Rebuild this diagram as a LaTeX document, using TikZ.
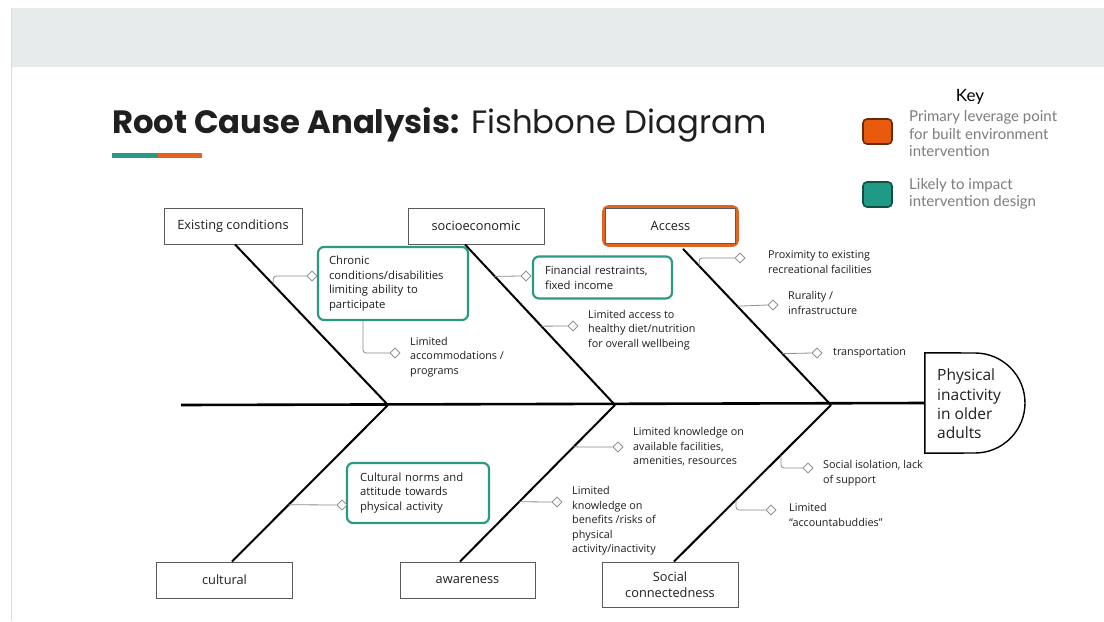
\documentclass[tikz,border=0pt]{standalone}
\usepackage{fontspec}
\setmainfont{Open Sans}
\newfontfamily\titlefont{Poppins}
\newfontfamily\keyfont{Lato}
\usetikzlibrary{shapes.geometric,calc}
\definecolor{band}{HTML}{E8EBEB}
\definecolor{edgeline}{HTML}{DADDDD}
\definecolor{tealc}{HTML}{2A9A85}
\definecolor{orangec}{HTML}{E2641F}
\definecolor{keyorange}{HTML}{E85A0C}
\definecolor{keyorangeedge}{HTML}{6B2A0A}
\definecolor{keyteal}{HTML}{1F9A86}
\definecolor{keytealedge}{HTML}{0F4F44}
\definecolor{keytext}{HTML}{7D7D7D}
\definecolor{boxline}{HTML}{5A5A5A}
\definecolor{twig}{HTML}{8C8C8C}
\definecolor{ink}{HTML}{1E1E1E}

\begin{document}
\begin{tikzpicture}[x=1pt,y=-1pt,
  catbox/.style={draw=boxline,line width=0.9pt,fill=white,inner sep=0pt,
    font=\fontsize{12.8}{16.5}\selectfont,text=ink,align=center},
  focusbox/.style={draw=tealc,line width=2.2pt,rounded corners=6pt,fill=white,
    align=left,inner ysep=0pt,font=\fontsize{11.3}{14.8}\selectfont,text=ink},
  bone/.style={draw=black,line width=2pt},
  spine/.style={draw=black,line width=2.6pt},
  twig/.style={draw=twig,line width=0.8pt,rounded corners=3pt},
  tip/.style={diamond,draw=twig,fill=white,line width=0.8pt,minimum width=10pt,
    minimum height=10pt,inner sep=0pt},
  cause/.style={anchor=west,align=left,inner sep=0pt,
    font=\fontsize{10.8}{14.5}\selectfont,text=ink},
  keytxt/.style={anchor=west,align=left,inner sep=0pt,
    font=\keyfont\fontsize{15}{17.5}\selectfont,text=keytext},
  keysq/.style={rounded corners=4pt,line width=1.6pt}
]
% page and header band
\fill[white] (0,0) rectangle (1104,621);
\fill[band] (11,8) rectangle (1104,67);
\draw[edgeline,line width=1pt] (11.5,8) -- (11.5,621);

% title with its two-colour rule
\node[anchor=base west,inner sep=0pt,font=\titlefont\fontsize{32.3}{37}\selectfont,text=black!88]
  (title) at (112,133) {\textbf{Root Cause Analysis:} Fishbone Diagram};
\fill[tealc] (112,153) rectangle (158,158);
\fill[orangec] (158,153) rectangle (202,158);

% key
\node[inner sep=0pt,font=\keyfont\fontsize{17}{20}\selectfont,text=black] (keyhead) at (970,97) {Key};
\filldraw[keysq,fill=keyorange,draw=keyorangeedge] (863,119) rectangle (892,144);
\filldraw[keysq,fill=keyteal,draw=keytealedge] (863,182) rectangle (892,207);
\node[keytxt] (keyprimary) at (909,134) {Primary leverage point\\for built environment\\intervention};
\node[keytxt] (keylikely) at (909,194) {Likely to impact\\intervention design};

% category boxes
\node[catbox,minimum width=138pt,minimum height=36pt] (ec) at (233,226) {Existing conditions};
\node[catbox,minimum width=136pt,minimum height=36pt] (soc) at (476,226) {socioeconomic};
\node[draw=orangec,line width=2.8pt,rounded corners=5pt,fill=white,inner sep=0pt,
  minimum width=134pt,minimum height=39pt,font=\fontsize{12.8}{16.5}\selectfont,text=ink]
  (acc) at (670.5,226) {Access};
\draw[boxline,line width=0.6pt] ($(acc.north west)+(3.5,3.5)$) rectangle ($(acc.south east)+(-3.5,-3.5)$);
\node[catbox,minimum width=136pt,minimum height=36pt] (cul) at (224.5,580) {cultural};
\node[catbox,minimum width=135pt,minimum height=36pt] (awa) at (467.5,580) {awareness};
\node[catbox,minimum width=136pt,minimum height=45pt] (scn) at (670,584.5) {Social\\connectedness};

% effect head
\node[minimum width=100pt,minimum height=100pt,inner sep=0pt] (head) at (975,403) {};
\draw[black,line width=1.4pt] (head.north west) -- (975,353)
  .. controls (1002.6,353) and (1025,375.4) .. (1025,403)
  .. controls (1025,430.6) and (1002.6,453) .. (975,453) -- (head.south west) -- cycle;
\node[anchor=west,align=left,inner sep=0pt,font=\fontsize{15.5}{19.3}\selectfont,text=ink]
  (headtxt) at (937,404) {Physical\\inactivity\\in older\\adults};

% spine and bones
\coordinate (tail) at (181,405);
\coordinate (j1) at (388,405);
\coordinate (j2) at (615,405);
\coordinate (j3) at (831,405);
\draw[spine] (tail) -- (head.west);
\coordinate (b1) at ([xshift=2pt]ec.south);
\coordinate (b2) at ([xshift=-11pt]soc.south);
\coordinate (b3) at ([xshift=12.5pt,yshift=-2pt]acc.south);
\coordinate (b4) at ([xshift=7.5pt]cul.north);
\coordinate (b5) at ([xshift=-7.5pt]awa.north);
\coordinate (b6) at ([xshift=4pt]scn.north);
\draw[bone] (b1) -- (j1);
\draw[bone] (b2) -- (j2);
\draw[bone] (b3) -- (j3);
\draw[bone] (j1) -- (b4);
\draw[bone] (j2) -- (b5);
\draw[bone] (j3) -- (b6);

% highlighted causes
\node[focusbox,minimum width=150pt,minimum height=73pt,text width=128pt,inner xsep=11pt]
  (chronic) at (393,283.5) {Chronic\\conditions/disabilities\\limiting ability to\\participate};
\node[focusbox,minimum width=139pt,minimum height=42pt,text width=115pt,inner xsep=12pt]
  (fin) at (602.5,277.5) {Financial restraints,\\fixed income};
\node[focusbox,minimum width=142pt,minimum height=60pt,text width=116pt,inner xsep=13pt]
  (norms) at (418,493) {Cultural norms and\\attitude towards\\physical activity};

% plain causes
\node[cause] (accom) at (410,357) {Limited\\accommodations /\\programs};
\node[cause] (diet) at (588,330) {Limited access to\\healthy diet/nutrition\\for overall wellbeing};
\node[cause] (prox) at (768,262) {Proximity to existing\\recreational facilities};
\node[cause] (rural) at (788,303) {Rurality /\\infrastructure};
\node[cause] (trans) at (833,353) {transportation};
\node[cause] (avail) at (633,447) {Limited knowledge on\\available facilities,\\amenities, resources};
\node[cause] (risks) at (572,521) {Limited\\knowledge on\\benefits /risks of\\physical\\activity/inactivity};
\node[cause] (isol) at (823,473) {Social isolation, lack\\of support};
\node[cause] (buddy) at (789,515) {Limited\\``accountabuddies''};

% twig tips
\node[tip] (d1) at (312,276) {};
\node[tip] (d2) at (395,353) {};
\node[tip] (d3) at (526,276) {};
\node[tip] (d4) at (573,326) {};
\node[tip] (d5) at (740,258) {};
\node[tip] (d6) at (773,305) {};
\node[tip] (d7) at (817,353) {};
\node[tip] (d8) at (342,505) {};
\node[tip] (d9) at (618,447) {};
\node[tip] (d10) at (557,502) {};
\node[tip] (d11) at (808,468) {};
\node[tip] (d12) at (771,510) {};

% twigs from the bones to their tips
\draw[twig] ($(b1)!0.25!(j1)$) |- (d1.west);
\draw[twig] ([xshift=-30pt]chronic.south) |- (d2.west);
\draw[twig] ($(b2)!0.199!(j2)$) -- (d3.west);
\draw[twig] ($(b2)!0.509!(j2)$) -- (d4.west);
\draw[twig] ($(b3)!0.11!(j3)$) |- (d5.west);
\draw[twig] ($(b3)!0.367!(j3)$) -- (d6.west);
\draw[twig] ($(b3)!0.671!(j3)$) -- (d7.west);
\draw[twig] ($(j1)!0.637!(b4)$) -- (d8.west);
\draw[twig] ($(j2)!0.2675!(b5)$) -- (d9.west);
\draw[twig] ($(j2)!0.618!(b5)$) -- (d10.west);
\draw[twig] ($(j3)!0.318!(b6)$) |- (d11.west);
\draw[twig] ($(j3)!0.605!(b6)$) |- (d12.west);
\node[tip] at (d1) {};
\node[tip] at (d2) {};
\node[tip] at (d3) {};
\node[tip] at (d4) {};
\node[tip] at (d5) {};
\node[tip] at (d6) {};
\node[tip] at (d7) {};
\node[tip] at (d8) {};
\node[tip] at (d9) {};
\node[tip] at (d10) {};
\node[tip] at (d11) {};
\node[tip] at (d12) {};
\end{tikzpicture}
\end{document}
